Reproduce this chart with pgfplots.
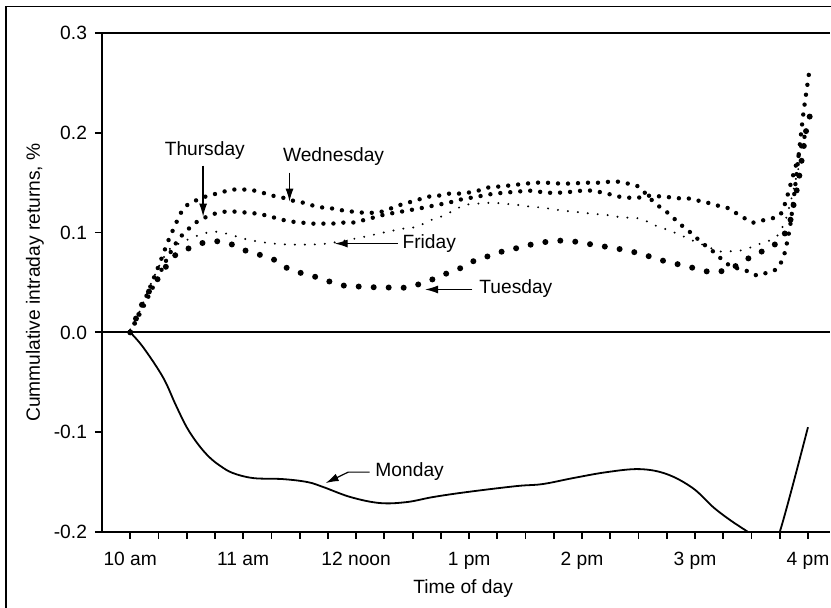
\documentclass[border=0pt]{standalone}
\usepackage{pgfplots}
\pgfplotsset{compat=1.18}
\usepackage{fontspec}
\setmainfont{Liberation Sans}
\usetikzlibrary{arrows.meta}

\newcommand{\lblfont}{\fontsize{9.6}{11}\selectfont}

\begin{document}
\begin{tikzpicture}[font=\lblfont]
\useasboundingbox (0,0) rectangle (415.5pt,304pt);
% outer frame (left and top only, as in the scan)
\draw[line width=0.9pt] (3pt,0) -- (3pt,300.75pt) -- (415.5pt,300.75pt);

\begin{axis}[
  at={(51pt,38pt)}, anchor=south west,
  scale only axis,
  width=364pt, height=249.5pt,
  xmin=-0.25, xmax=6.195,
  ymin=-0.2, ymax=0.3,
  axis x line*=bottom, axis y line*=left,
  axis line style={-, line width=0.9pt},
  tick align=outside,
  major tick length=3.5pt, minor tick length=3.5pt,
  tick style={line width=0.9pt, black},
  xtick={0,1,2,3,4,5,6},
  xticklabels={10 am,11 am,12 noon,1 pm,2 pm,3 pm,4 pm},
  minor xtick={0.25,0.5,0.75,1.25,1.5,1.75,2.25,2.5,2.75,3.25,3.5,3.75,4.25,4.5,4.75,5.25,5.5,5.75,6.25},
  ytick={-0.2,-0.1,0,0.1,0.2,0.3},
  yticklabels={-0.2,-0.1,0.0,0.1,0.2,0.3},
  tick label style={font=\lblfont},
  xticklabel style={yshift=-3pt},
  yticklabel style={xshift=-0.5pt},
  label style={font=\lblfont},
  xlabel={Time of day},
  ylabel={Cummulative intraday returns, \%},
  xlabel style={at={(axis description cs:0.496,-0.113)}, anchor=center},
  ylabel style={at={(axis description cs:-0.092,0.5)}, anchor=center},
]
% Monday (solid)
\addplot[black, line width=0.9pt, smooth, tension=0.6] coordinates {
 (0,0) (0.115,-0.015) (0.29,-0.045) (0.40,-0.072) (0.50,-0.095) (0.60,-0.112)
 (0.70,-0.125) (0.80,-0.134) (0.91,-0.141) (1.09,-0.146) (1.35,-0.147) (1.57,-0.150) (1.71,-0.155)
 (1.95,-0.165) (2.21,-0.171) (2.45,-0.170) (2.68,-0.165) (2.98,-0.160)
 (3.42,-0.154) (3.65,-0.152) (3.92,-0.146) (4.22,-0.140) (4.51,-0.137) (4.75,-0.142)
 (4.98,-0.156) (5.16,-0.175) (5.31,-0.188) (5.47,-0.200) (5.55,-0.206) (5.68,-0.206)
 (5.75,-0.200) (6.00,-0.095)
};
% Tuesday (large dots)
\addplot[black, line width=3pt, line cap=round, dash pattern=on 0pt off 7.5pt, smooth, tension=0.4] coordinates {
 (0,0.0) (0.07,0.019) (0.13,0.034) (0.20,0.047) (0.28,0.059) (0.35,0.072) (0.43,0.080)
 (0.56,0.086) (0.68,0.091) (0.80,0.091) (0.93,0.087) (1.04,0.081) (1.17,0.077) (1.29,0.072)
 (1.41,0.063) (1.53,0.059) (1.66,0.055) (1.79,0.050) (1.93,0.046) (2.06,0.046) (2.19,0.045)
 (2.33,0.045) (2.46,0.045) (2.60,0.050) (2.72,0.055) (2.84,0.061) (2.96,0.066) (3.08,0.074)
 (3.20,0.077) (3.34,0.083) (3.46,0.085) (3.58,0.089) (3.71,0.091) (3.84,0.092) (4.00,0.090)
 (4.13,0.087) (4.27,0.085) (4.39,0.082) (4.52,0.079) (4.65,0.074) (4.78,0.070) (4.90,0.067)
 (5.04,0.063) (5.16,0.060) (5.29,0.063) (5.42,0.070) (5.51,0.077) (5.65,0.084) (5.75,0.092)
 (5.82,0.104) (5.86,0.119) (5.88,0.133) (5.91,0.147) (5.93,0.162) (5.95,0.177) (5.97,0.192)
 (5.99,0.206) (6.03,0.222)
};
% Wednesday (medium dots, upper)
\addplot[black, line width=2.2pt, line cap=round, dash pattern=on 0pt off 5pt, smooth, tension=0.4] coordinates {
 (0,0) (0.1,0.025) (0.2,0.052) (0.28,0.075) (0.33,0.09) (0.38,0.103) (0.42,0.113) (0.46,0.122)
 (0.52,0.129) (0.62,0.134) (0.69,0.137) (0.80,0.140) (0.89,0.143) (0.97,0.143) (1.06,0.143)
 (1.17,0.140) (1.26,0.137) (1.35,0.135) (1.44,0.132) (1.53,0.130) (1.62,0.127) (1.71,0.125)
 (1.80,0.124) (1.89,0.122) (1.97,0.121) (2.06,0.120) (2.19,0.120) (2.28,0.123) (2.37,0.127)
 (2.46,0.130) (2.55,0.133) (2.64,0.136) (2.73,0.137) (2.82,0.139) (2.90,0.139) (2.99,0.140)
 (3.08,0.142) (3.16,0.145) (3.25,0.146) (3.34,0.147) (3.42,0.148) (3.50,0.149) (3.59,0.150)
 (3.68,0.150) (3.84,0.149) (4.05,0.150) (4.15,0.150) (4.25,0.151) (4.32,0.151) (4.41,0.149)
 (4.50,0.146) (4.64,0.130) (4.71,0.124) (4.79,0.117) (4.85,0.110) (4.93,0.103) (5.00,0.096)
 (5.07,0.089) (5.14,0.083) (5.21,0.076) (5.28,0.069) (5.35,0.065) (5.45,0.062) (5.55,0.057)
 (5.64,0.060) (5.73,0.064) (5.79,0.078) (5.84,0.105) (5.88,0.140) (5.92,0.180) (5.96,0.220)
 (6.01,0.260)
};
% Thursday (medium dots, lower)
\addplot[black, line width=2.2pt, line cap=round, dash pattern=on 0pt off 5pt, smooth, tension=0.4] coordinates {
 (0,0) (0.1,0.022) (0.2,0.045) (0.3,0.068) (0.38,0.085) (0.44,0.095) (0.50,0.102) (0.58,0.110)
 (0.66,0.115) (0.75,0.119) (0.84,0.121) (0.93,0.121) (1.03,0.120) (1.12,0.119) (1.21,0.117)
 (1.34,0.113) (1.43,0.111) (1.52,0.110) (1.61,0.109) (1.70,0.109) (1.79,0.109) (1.88,0.110)
 (1.97,0.110) (2.05,0.112) (2.15,0.115) (2.25,0.118) (2.35,0.120) (2.45,0.122) (2.55,0.124)
 (2.64,0.126) (2.73,0.128) (2.82,0.130) (2.92,0.133) (3.02,0.135) (3.12,0.137) (3.22,0.139)
 (3.32,0.140) (3.42,0.141) (3.55,0.142) (3.68,0.140) (3.80,0.140) (3.92,0.141) (4.00,0.142)
 (4.10,0.142) (4.18,0.140) (4.26,0.138) (4.33,0.136) (4.41,0.135) (4.50,0.135) (4.58,0.137)
 (4.72,0.136) (4.81,0.135) (4.89,0.134) (4.97,0.134) (5.06,0.131) (5.15,0.129) (5.23,0.126)
 (5.31,0.124) (5.37,0.119) (5.43,0.115) (5.51,0.110) (5.59,0.112) (5.67,0.114) (5.75,0.117)
 (5.80,0.130) (5.85,0.150) (5.90,0.170) (5.95,0.190) (6.00,0.205)
};
% Friday (small dots)
\addplot[black, line width=1.1pt, line cap=round, dash pattern=on 0pt off 5pt, smooth, tension=0.4] coordinates {
 (0,0.003) (0.08,0.020) (0.15,0.040) (0.22,0.058) (0.29,0.074) (0.354,0.084) (0.451,0.090)
 (0.531,0.094) (0.646,0.099) (0.752,0.101) (0.885,0.098) (1.00,0.094) (1.133,0.091)
 (1.265,0.089) (1.39,0.088) (1.504,0.088) (1.62,0.088) (1.743,0.089) (1.90,0.092) (2.08,0.096)
 (2.24,0.100) (2.42,0.104) (2.50,0.105) (2.58,0.108) (2.65,0.112) (2.73,0.115) (2.81,0.119)
 (2.89,0.124) (2.98,0.128) (3.07,0.129) (3.21,0.130) (3.30,0.129) (3.41,0.128) (3.54,0.126)
 (3.65,0.125) (3.83,0.122) (3.92,0.121) (4.09,0.119) (4.18,0.118) (4.27,0.117) (4.35,0.115)
 (4.43,0.115) (4.51,0.114) (4.60,0.110) (4.67,0.106) (4.75,0.103) (4.84,0.099) (4.92,0.095)
 (5.00,0.091) (5.13,0.085) (5.22,0.081) (5.40,0.082) (5.49,0.085) (5.58,0.089) (5.66,0.092)
 (5.73,0.097) (5.80,0.112) (5.86,0.137) (5.91,0.162) (5.96,0.180)
};
% top frame line and zero line
\draw[line width=0.9pt] (rel axis cs:0,1) -- (rel axis cs:1,1);
\draw[line width=0.9pt] (axis cs:-0.25,0) -- (axis cs:6.195,0);
% annotations
\node at (axis cs:0.66,0.182) {Thursday};
\draw[line width=0.6pt, -{Latex[length=6.5pt,width=4pt]}] (axis cs:0.645,0.167) -- (axis cs:0.645,0.116);
\node at (axis cs:1.80,0.176) {Wednesday};
\draw[line width=0.6pt, -{Latex[length=6.5pt,width=4pt]}] (axis cs:1.41,0.160) -- (axis cs:1.41,0.131);
\node[anchor=west, inner sep=1pt] at (axis cs:2.39,0.089) {Friday};
\draw[line width=0.6pt, -{Latex[length=6.5pt,width=4pt]}] (axis cs:2.37,0.089) -- (axis cs:1.81,0.089);
\node[anchor=west, inner sep=1pt] at (axis cs:3.07,0.044) {Tuesday};
\draw[line width=0.6pt, -{Latex[length=6.5pt,width=4pt]}] (axis cs:3.03,0.043) -- (axis cs:2.61,0.043);
\node[anchor=west, inner sep=1pt] at (axis cs:2.15,-0.139) {Monday};
\draw[line width=0.6pt, -{Latex[length=6.5pt,width=4pt]}] (axis cs:2.12,-0.140) -- (axis cs:1.93,-0.140) -- (axis cs:1.73,-0.151);
\end{axis}
\end{tikzpicture}
\end{document}
